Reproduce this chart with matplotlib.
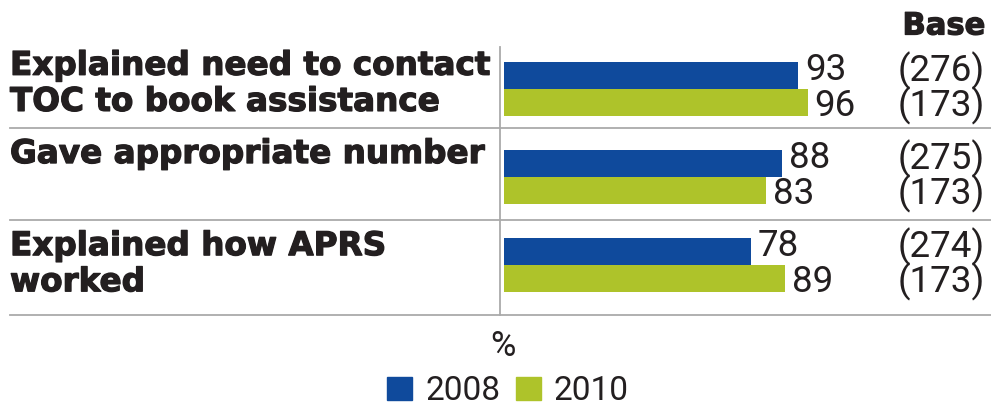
import matplotlib.pyplot as plt
import matplotlib.patheffects as pe
from matplotlib.transforms import blended_transform_factory

labels = ["Explained need to contact\nTOC to book assistance",
          "Gave appropriate number",
          "Explained how APRS\nworked"]
vals_2008 = [93, 88, 78]
vals_2010 = [96, 83, 89]
base_2008 = ["(276)", "(275)", "(274)"]
base_2010 = ["(173)", "(173)", "(173)"]
years = ["2008", "2010"]

blue = "#0F4A9C"
green = "#AEC32A"
grey = "#AAAAAA"
ink = "#231F20"
light = dict(family=["Roboto", "DejaVu Sans"], fontweight="normal", color=ink)
heavy = [pe.withStroke(linewidth=0.9, foreground=ink)]
bold = dict(family=["DejaVu Sans"], fontweight="bold", color=ink, path_effects=heavy)

W, H = 991, 408
fig = plt.figure(figsize=(W / 100, H / 100), dpi=100)
# axes: y from 40 px (top) to 318 px, group centres at 89, 177, 265 px
ax = fig.add_axes([500 / W, 1 - 318 / H, 491 / W, 278 / H])

pos = list(range(len(labels)))
bh = 0.307
ax.barh([p - bh / 2 for p in pos], vals_2008, height=bh, color=blue)
ax.barh([p + bh / 2 for p in pos], vals_2010, height=bh, color=green)
ax.set_xlim(-1.27, 154)
ax.set_ylim(2.6, -0.56)
ax.axis("off")

tr = blended_transform_factory(fig.transFigure, ax.transData)
for p, v1, v2, b1, b2 in zip(pos, vals_2008, vals_2010, base_2008, base_2010):
    y1 = p - bh / 2 - 0.06
    y2 = p + bh / 2 + 0.04
    ax.text(v1 + 2.2, y1, str(v1), va="center", ha="left", fontsize=26.5, **light)
    ax.text(v2 + 2.2, y2, str(v2), va="center", ha="left", fontsize=26.5, **light)
    ax.text(985 / W, y1, b1, va="center", ha="right", fontsize=26.5, transform=tr, **light)
    ax.text(985 / W, y2, b2, va="center", ha="right", fontsize=26.5, transform=tr, **light)

# row labels, top aligned in each band
bands = [-0.56, 0.443, 1.49]
for b, lab in zip(bands, labels):
    ax.text(10 / W, b + 0.1, lab, ha="left", va="top", fontsize=23.5,
            linespacing=1.12, transform=tr, **bold)

# separators and vertical axis line
for s in [0.443, 1.49, 2.57]:
    ax.plot([10 / W, 1.0], [s, s], color=grey, lw=1.3, transform=tr, clip_on=False)
ax.plot([-1.27, -1.27], [-0.48, 2.57], color=grey, lw=1.3, clip_on=False)

fig.text(985 / W, 1 - 26 / H, "Base", ha="right", va="center", fontsize=22, **bold)
fig.text(503 / W, 1 - 347 / H, "%", ha="center", va="center", fontsize=25, **light)

h1 = plt.Rectangle((0, 0), 1, 1, color=blue)
h2 = plt.Rectangle((0, 0), 1, 1, color=green)
leg = fig.legend([h1, h2], years, loc="center", bbox_to_anchor=(508 / W, 1 - 391 / H),
                 ncol=2, frameon=False, prop=dict(family="Roboto", size=24),
                 handlelength=0.75, handleheight=0.7, handletextpad=0.4,
                 columnspacing=0.45, borderaxespad=0, borderpad=0)
for t in leg.get_texts():
    t.set_color(ink)

fig.savefig("out.png", dpi=100)
